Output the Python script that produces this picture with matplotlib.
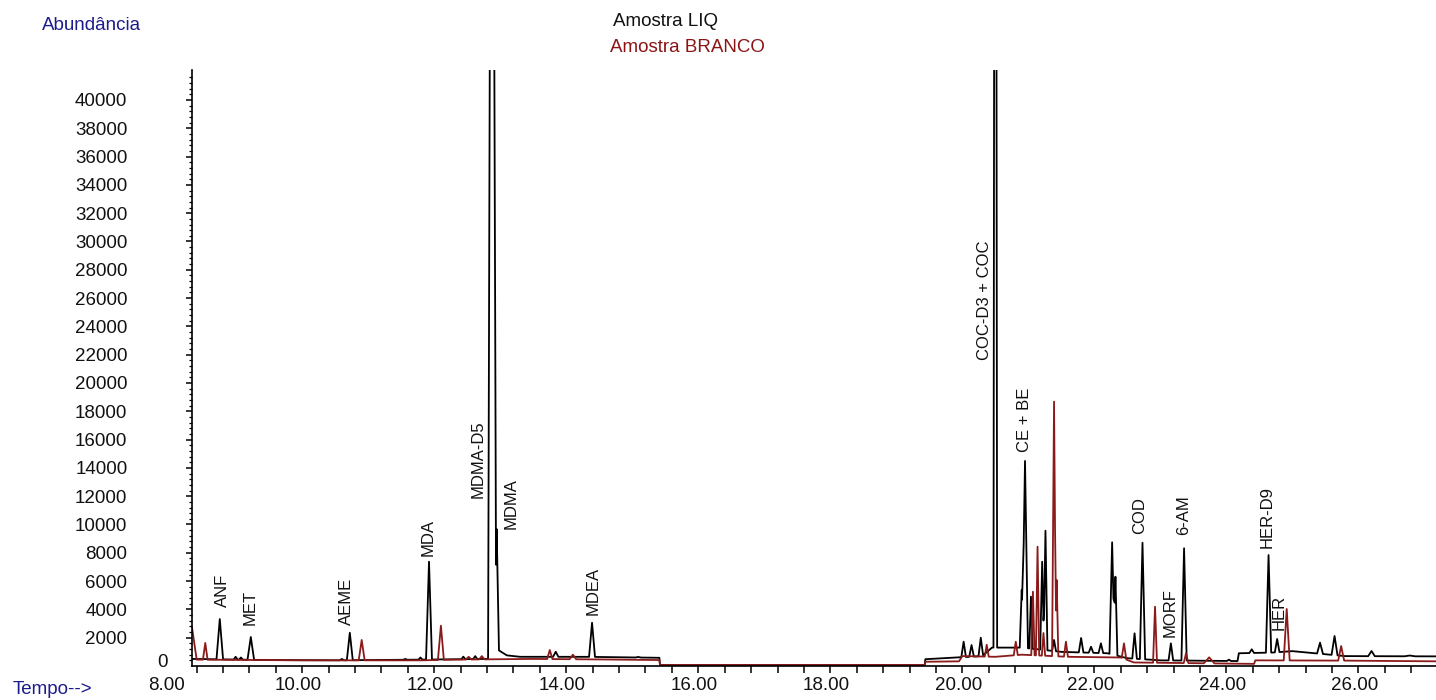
import numpy as np
import matplotlib
matplotlib.use("Agg")
from matplotlib import pyplot as plt
from matplotlib import transforms

plt.rcParams["font.family"] = ["Liberation Sans", "DejaVu Sans"]

# baseline knots (tempo, abundancia)
liq_base_t = [8.33, 9.5, 10.5, 11.8, 12.8, 12.98, 13.1, 13.3, 14.3, 15.41, 15.42, 19.43, 19.44,
              19.9, 20.3, 20.45, 20.9, 21.5, 22.2, 22.5, 23.0, 24.17, 24.19, 24.7, 25.0, 25.8, 27.2]
liq_base_a = [500, 420, 400, 450, 500, 1100, 750, 650, 650, 580, 70, 70, 480,
              600, 700, 1300, 1300, 1000, 900, 550, 400, 350, 900, 950, 1050, 700, 680]

branco_base_t = [8.33, 8.40, 10.0, 11.8, 12.3, 13.5, 14.6, 15.41, 15.42, 19.43, 19.44, 19.95, 20.0,
                 20.5, 20.9, 21.6, 22.4, 22.6, 24.42, 24.44, 25.8, 27.2]
branco_base_a = [2700, 450, 400, 400, 450, 500, 460, 420, 70, 70, 300, 330, 700,
                 650, 800, 650, 600, 250, 150, 400, 380, 330]

# peaks: retention time, apex abundance, half width
liq_rt = [8.75, 8.99, 9.07, 9.22, 10.60, 10.72, 11.56, 11.79, 11.92, 12.44, 12.62, 12.875, 12.945,
          13.84, 14.39, 15.09, 20.02, 20.14, 20.28, 20.50, 20.90, 20.95, 21.04, 21.21, 21.26,
          21.39, 21.80, 21.95, 22.10, 22.27, 22.32, 22.61, 22.73, 23.16, 23.36, 24.04, 24.385,
          24.64, 24.77, 25.42, 25.64, 26.20, 26.78]
liq_h = [3320, 650, 600, 2050, 500, 2350, 500, 600, 7370, 660, 700, 100000, 9680,
         1010, 3060, 640, 1720, 1480, 2000, 120000, 5370, 14490, 4900, 7370, 9560,
         1840, 1980, 1360, 1600, 8740, 6310, 2310, 8710, 1600, 8320, 450, 1180,
         7840, 1910, 1650, 2120, 1060, 740]
liq_w = [0.05, 0.03, 0.03, 0.05, 0.03, 0.045, 0.03, 0.03, 0.045, 0.03, 0.03, 0.06, 0.035,
         0.04, 0.045, 0.04, 0.035, 0.035, 0.035, 0.028, 0.03, 0.045, 0.025, 0.03, 0.03,
         0.03, 0.035, 0.035, 0.035, 0.04, 0.03, 0.035, 0.04, 0.035, 0.04, 0.03, 0.035,
         0.04, 0.035, 0.045, 0.045, 0.05, 0.08]

branco_rt = [8.53, 10.90, 12.10, 12.52, 12.72, 13.75, 14.10, 20.37, 20.81, 21.07, 21.14, 21.23,
             21.39, 21.43, 21.57, 22.45, 22.92, 23.39, 23.74, 24.915, 25.74]
branco_h = [1630, 1840, 2850, 650, 700, 1130, 800, 1500, 1720, 5250, 8430, 2330,
            18680, 6080, 1720, 1600, 4190, 900, 610, 4030, 1410]
branco_w = [0.035, 0.045, 0.045, 0.04, 0.04, 0.04, 0.05, 0.03, 0.03, 0.025, 0.025, 0.025,
            0.03, 0.025, 0.03, 0.035, 0.03, 0.035, 0.08, 0.045, 0.045]

# peak names and where their labels sit (tempo, abundancia of label bottom)
labels = ["ANF", "MET", "AEME", "MDA", "MDMA-D5", "MDMA", "MDEA", "COC-D3 + COC",
          "CE + BE", "COD", "MORF", "6-AM", "HER-D9", "HER"]
label_t = [8.79, 9.21, 10.67, 11.91, 12.67, 13.17, 14.40, 20.34,
           20.935, 22.69, 23.15, 23.35, 24.62, 24.80]
label_a = [4180, 2900, 2900, 7770, 11870, 9660, 3600, 21620,
           15140, 9330, 2050, 9260, 8360, 2540]


def trace(base_t, base_a, rt, h, w):
    t = np.concatenate([base_t, rt, np.array(rt) - np.array(w), np.array(rt) + np.array(w)])
    t = np.unique(t)
    a = np.interp(t, base_t, base_a)
    for r, hh, ww in zip(rt, h, w):
        b = np.interp(r, base_t, base_a)
        a = a + (hh - b) * np.clip(1 - np.abs(t - r) / ww, 0, None)
    return t, a


fig = plt.figure(figsize=(14.36, 7.0), dpi=100)
ax = fig.add_axes([192 / 1436, 34 / 700, 1244 / 1436, 596 / 700])

t1, a1 = trace(liq_base_t, liq_base_a, liq_rt, liq_h, liq_w)
t2, a2 = trace(branco_base_t, branco_base_a, branco_rt, branco_h, branco_w)
ax.plot(t1, a1, color="#000000", lw=1.3)
ax.plot(t2, a2, color="#8b1a1a", lw=1.3)

for name, x, y in zip(labels, label_t, label_a):
    ax.text(x, y, name, rotation=90, ha="center", va="bottom", fontsize=12, color="#111111")

ax.set_xlim(8.329, 27.177)
ax.set_ylim(0, 42120)
for s in ["top", "right"]:
    ax.spines[s].set_visible(False)
for s in ["left", "bottom"]:
    ax.spines[s].set_linewidth(1.2)

ax.set_xticks(np.arange(10, 27, 2))
ax.set_xticks(np.arange(8.4, 27.2, 0.4), minor=True)
ax.set_xticklabels(["%.2f" % v for v in np.arange(10, 27, 2)])
ax.tick_params(axis="x", which="both", length=5, width=1.1, direction="out", pad=3,
               labelsize=13.5, labelcolor="#111111")
offset = transforms.ScaledTranslation(-4 / 100, 0, fig.dpi_scale_trans)
for lab in ax.get_xticklabels():
    lab.set_transform(lab.get_transform() + offset)
ax.text(8.0 - 4 / 66, -0.0185, "8.00", transform=ax.get_xaxis_transform(), ha="center",
        va="top", fontsize=13.5, color="#111111", clip_on=False)

ax.set_yticks(np.arange(2000, 40001, 2000))
ax.set_yticks(np.arange(400, 42000, 400), minor=True)
ax.tick_params(axis="y", which="major", length=4.5, width=1.1, pad=42, labelsize=13.5,
               labelcolor="#111111")
ax.tick_params(axis="y", which="minor", length=2.2, width=0.9)
ax.text(-0.0193, 280, "0", transform=ax.get_yaxis_transform(), ha="right", va="center",
        fontsize=13.5, color="#111111", clip_on=False)

fig.text(42 / 1436, 1 - 25 / 700, "Abundância", ha="left", va="center", fontsize=13.5,
         color="#1c1c8a")
fig.text(13 / 1436, 1 - 690 / 700, "Tempo-->", ha="left", va="center", fontsize=13.5,
         color="#1c1c8a")
fig.text(613 / 1436, 1 - 22 / 700, "Amostra LIQ", ha="left", va="center", fontsize=13.5,
         color="#111111")
fig.text(610 / 1436, 1 - 47 / 700, "Amostra BRANCO", ha="left", va="center", fontsize=13.5,
         color="#8b1515")

fig.savefig("out.png", dpi=100)
